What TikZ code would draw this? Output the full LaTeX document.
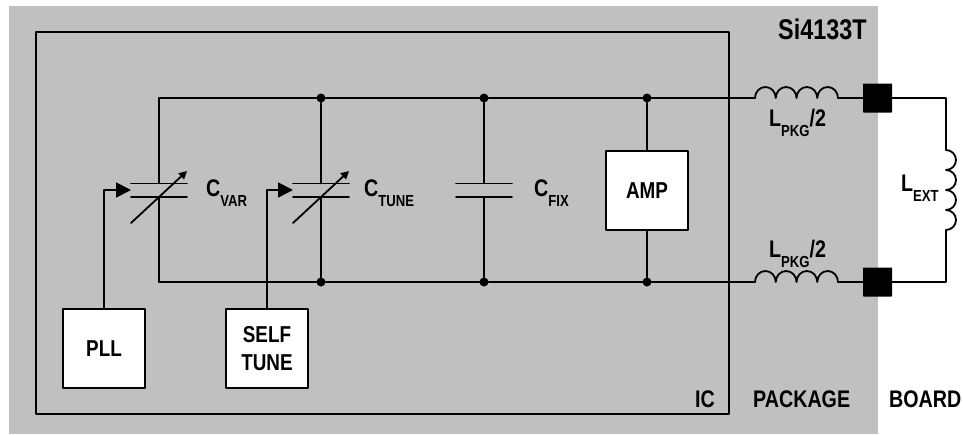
\documentclass[tikz,border=0pt]{standalone}
\usepackage{fontspec}
\setmainfont[FakeStretch=0.82]{Liberation Sans}
\usetikzlibrary{arrows.meta}
\definecolor{pkggray}{RGB}{192,192,192}
\tikzset{
	wire/.style={line width=1.8pt,line cap=round,line join=round},
	block/.style={draw,wire,fill=white,minimum width=82pt,minimum height=79pt,align=center,inner sep=0pt,font=\fontsize{23}{28}\selectfont\bfseries},
	lbl/.style={anchor=base west,inner sep=0pt,font=\fontsize{24}{28}\selectfont\bfseries},
	dot/.style={circle,fill=black,minimum size=9pt,inner sep=0pt},
	pad/.style={fill=black,rounded corners=0.6pt,minimum size=29pt,inner sep=0pt},
	ctrl/.style={wire,-{Triangle[length=15pt,width=15pt]}}
}
\newcommand{\subtxt}[1]{{\fontsize{16}{18}\selectfont\raisebox{-10pt}{#1}}}
\begin{document}
\begin{tikzpicture}[x=1pt,y=-1pt]
	\useasboundingbox (0,0) rectangle (963,434);
	\fill[pkggray] (9,6) rectangle (878,433.5);
	\node[draw,wire,minimum width=693pt,minimum height=382pt,inner sep=0pt] (IC) at (382.5,223) {};

	% rails and junctions
	\foreach \x [count=\n] in {321,484,647} {
		\node[dot] (T\n) at (\x,98) {};
		\node[dot] (B\n) at (\x,282) {};
	}
	\coordinate (Tl) at (159,98);
	\coordinate (Bl) at (159,282);
	\node[pad] (P1) at (877.5,98) {};
	\node[pad] (P2) at (877.5,282) {};
	\coordinate (K1) at (755,98);
	\coordinate (K2) at (755,282);
	\coordinate (K3) at (838,98);
	\coordinate (K4) at (838,282);
	\coordinate (Rt) at (946,98);
	\coordinate (Rb) at (946,282);
	\coordinate (X1) at (946,150);
	\coordinate (X2) at (946,230);
	\draw[wire] (Tl) -- (T1) -- (T2) -- (T3) -- (K1);
	\draw[wire] (Bl) -- (B1) -- (B2) -- (B3) -- (K2);
	\draw[wire] (K3) -- (P1);
	\draw[wire] (K4) -- (P2);
	\draw[wire] (P1) -- (Rt) -- (X1);
	\draw[wire] (P2) -- (Rb) -- (X2);

	% inductors
	\foreach \k in {K1,K2}
		\draw[wire] (\k) foreach \i in {1,...,4} {arc[start angle=180,end angle=0,x radius=10.375pt,y radius=11pt]};
	\draw[wire] (X1) foreach \i in {1,...,4} {arc[start angle=90,end angle=-90,x radius=10pt,y radius=10pt]};

	% capacitors
	\foreach \x/\top/\bot [count=\n] in {159/Tl/Bl,321/T1/B1,484/T2/B2} {
		\coordinate (U\n) at (\x,183.5);
		\coordinate (L\n) at (\x,197);
		\draw[wire] (\top) -- (U\n);
		\draw[wire] (L\n) -- (\bot);
		\draw[wire] ([xshift=-28pt]U\n) -- ([xshift=28pt]U\n);
		\draw[wire] ([xshift=-28pt]L\n) -- ([xshift=28pt]L\n);
	}
	\foreach \n in {1,2}
		\draw[wire,-{Triangle[length=8pt,width=8pt]}] ([xshift=-28pt,yshift=-26pt]L\n) -- ([xshift=28pt,yshift=26pt]L\n);

	% blocks
	\node[block] (PLL) at (104,348.5) {PLL};
	\node[block] (ST) at (267,348.5) {SELF\\TUNE};
	\node[block] (AMP) at (647,190.5) {AMP};
	\draw[wire] (T3) -- (AMP);
	\draw[wire] (AMP) -- (B3);
	\coordinate (A1) at (131,190);
	\coordinate (A2) at (293,190);
	\draw[ctrl] (PLL.north) |- (A1);
	\draw[ctrl] (ST.north) |- (A2);

	% labels
	\node[lbl] (CV) at (206,196) {C\subtxt{VAR}};
	\node[lbl] (CT) at (364,196) {C\subtxt{TUNE}};
	\node[lbl] (CF) at (534,196) {C\subtxt{FIX}};
	\node[lbl] (LP1) at (769,126) {L\subtxt{PKG}/2};
	\node[lbl] (LP2) at (769,257) {L\subtxt{PKG}/2};
	\node[lbl] (LE) at (901,191) {L\subtxt{EXT}};
	\node[lbl,font=\fontsize{28.5}{32}\selectfont\bfseries] (SI) at (778,39) {Si4133T};
	\node[lbl] (ICL) at (695,407) {IC};
	\node[lbl] (PK) at (753,407) {PACKAGE};
	\node[lbl] (BD) at (889,407) {BOARD};
\end{tikzpicture}
\end{document}
